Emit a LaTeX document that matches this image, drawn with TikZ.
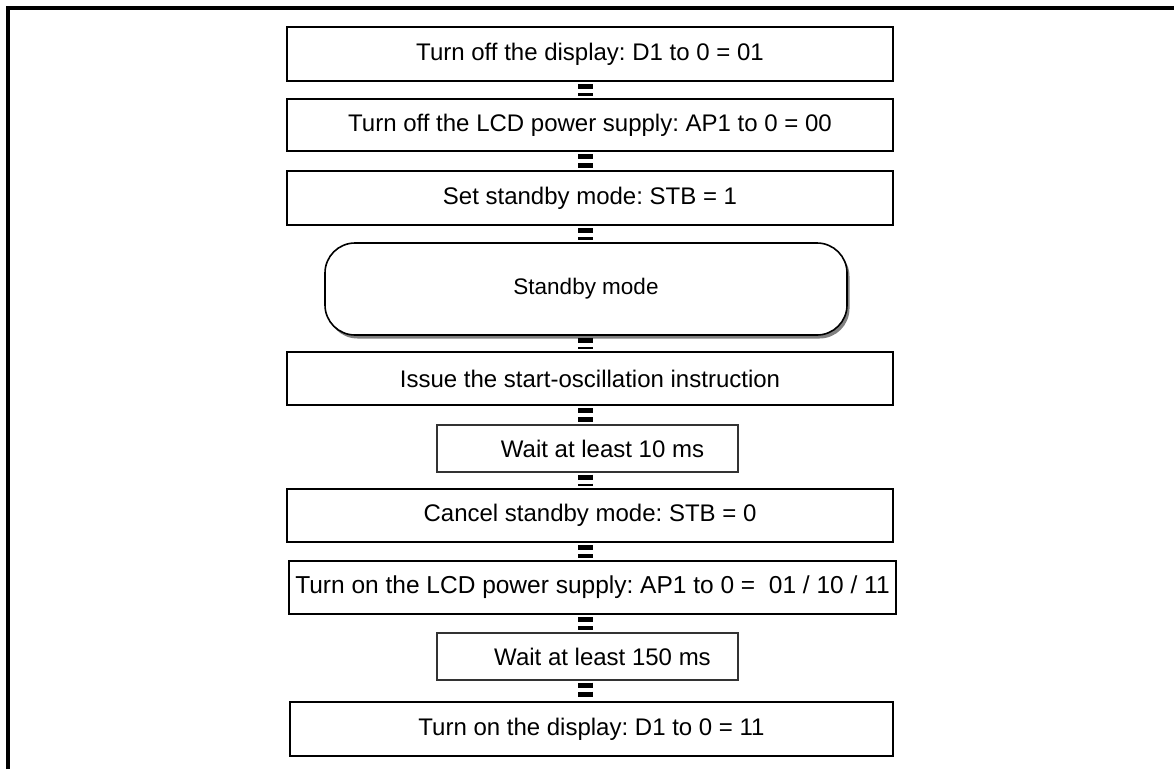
\documentclass[tikz,border=0pt]{standalone}
\usepackage{fontspec}
\setmainfont{Liberation Sans}
\usetikzlibrary{shadows}
\frenchspacing
\begin{document}
\begin{tikzpicture}[x=1pt,y=-1pt,
  box/.style={draw=black, line width=2pt, fill=white, inner sep=0pt,
    font=\fontsize{24}{28}\selectfont},
  thinbox/.style={draw=black!80, line width=1.2pt, fill=white, inner sep=0pt,
    font=\fontsize{24}{28}\selectfont},
  term/.style={draw=black, line width=1.6pt, fill=white, rounded corners=30pt,
    inner sep=0pt, font=\fontsize{22.5}{26}\selectfont,
    drop shadow={shadow xshift=2.5pt, shadow yshift=-3.5pt, fill=black!50, opacity=1}},
  conn/.style={line width=15pt, dash pattern=on 5pt off 4pt,
    shorten <=2pt, shorten >=2pt},
  frameline/.style={line width=4pt}
]
\useasboundingbox (0,0) rectangle (1174,769);
\coordinate (fl) at (8,769);
\coordinate (fc) at (8,8);
\coordinate (fr) at (1174,8);
\draw[frameline] (fl) -- (fc) -- (fr);

\node[box, minimum width=606pt, minimum height=54pt] (b1) at (590,54) {Turn off the display: D1 to 0 = 01};
\node[box, minimum width=606pt, minimum height=52pt] (b2) at (590,125) {Turn off the LCD power supply: AP1 to 0 = 00};
\node[box, minimum width=606pt, minimum height=54pt] (b3) at (590,198) {Set standby mode: STB = 1};
\node[term, minimum width=522pt, minimum height=92pt] (sb) at (586,289) {Standby mode};
\node[box, minimum width=606pt, minimum height=53pt] (b4) at (590,378.5) {Issue the start-oscillation instruction};
\node[thinbox, minimum width=301pt, minimum height=47pt] (b5) at (587.5,448.5) {\hspace*{30pt}Wait at least 10 ms};
\node[box, minimum width=606pt, minimum height=53pt] (b6) at (590,515.5) {Cancel standby mode: STB = 0};
\node[box, minimum width=607pt, minimum height=53pt, font=\fontsize{24.5}{29}\selectfont] (b7) at (592.5,587.5) {Turn on the LCD power supply: AP1 to 0 = \ 01 / 10 / 11};
\node[thinbox, minimum width=301pt, minimum height=47pt] (b8) at (587.5,656.5) {\hspace*{30pt}Wait at least 150 ms};
\node[box, minimum width=603pt, minimum height=54pt] (b9) at (591.5,729) {Turn on the display: D1 to 0 = 11};

\coordinate (cx) at (585,0);
\draw[conn] (b1.south -| cx) -- (b2.north -| cx);
\draw[conn] (b2.south -| cx) -- (b3.north -| cx);
\draw[conn] (b3.south -| cx) -- (sb.north -| cx);
\draw[conn] (sb.south -| cx) -- (b4.north -| cx);
\draw[conn] (b4.south -| cx) -- (b5.north -| cx);
\draw[conn] (b5.south -| cx) -- (b6.north -| cx);
\draw[conn] (b6.south -| cx) -- (b7.north -| cx);
\draw[conn] (b7.south -| cx) -- (b8.north -| cx);
\draw[conn] (b8.south -| cx) -- (b9.north -| cx);
\end{tikzpicture}
\end{document}
